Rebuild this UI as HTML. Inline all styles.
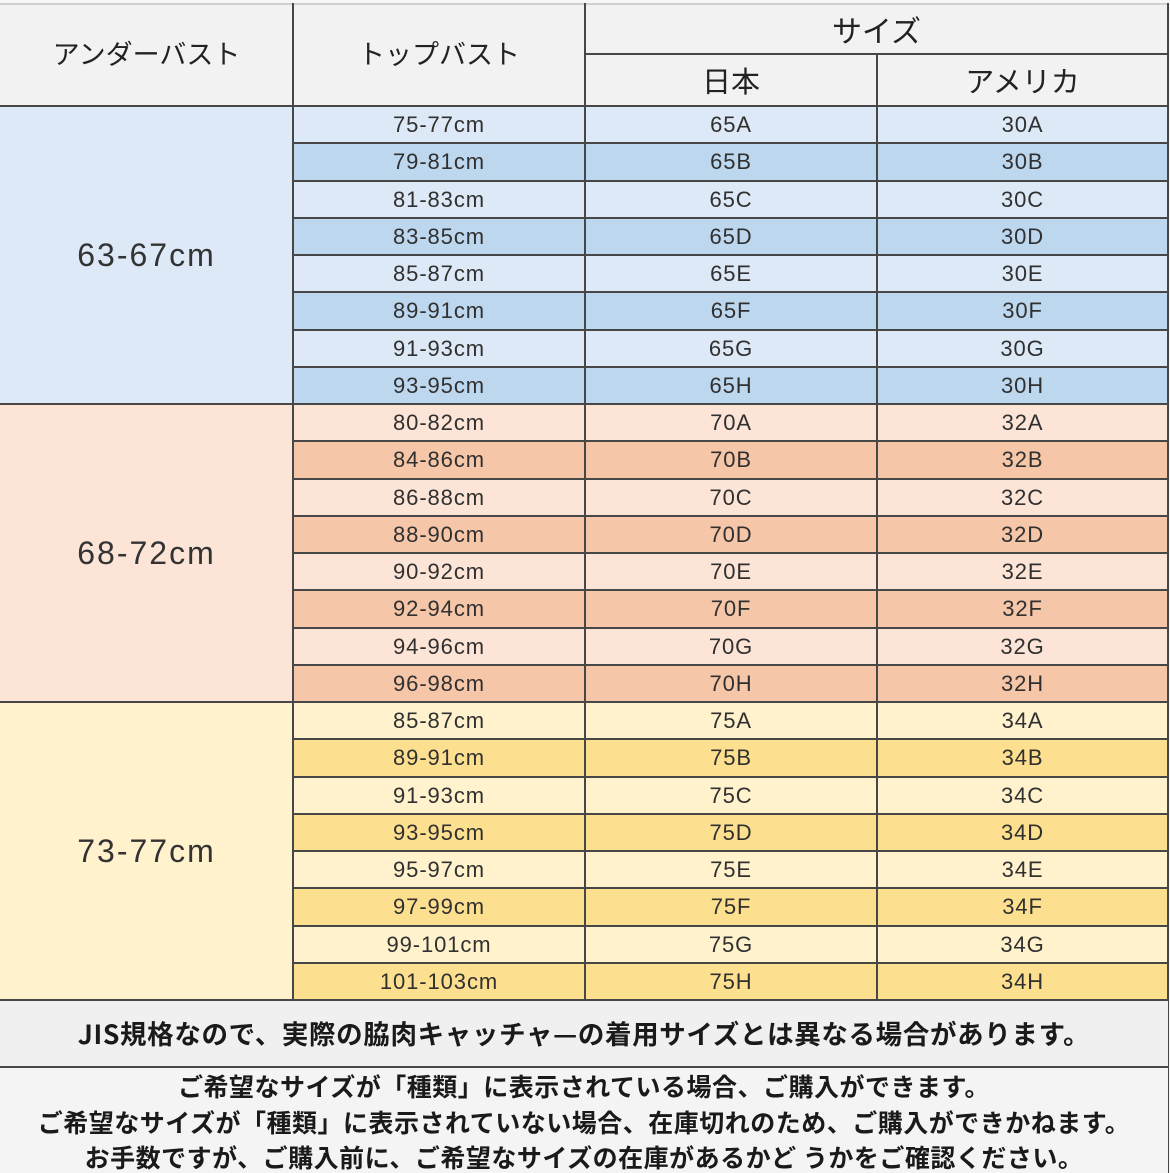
<!DOCTYPE html>
<html><head><meta charset="utf-8">
<style>
*{margin:0;padding:0;box-sizing:border-box}
html,body{width:1170px;height:1173px;background:#f7f7f7;overflow:hidden}
body{position:relative;font-family:"Liberation Sans","Noto Sans CJK JP",sans-serif;color:#2b2b2b}
.abs{position:absolute}
.hdr{left:0;top:3px;width:1168px;height:102px;background:#f2f2f2;border-top:2px solid #d0d0d0}
.ht{position:absolute;text-align:center;font-family:"Noto Sans CJK JP","Liberation Sans",sans-serif;color:#222}
.rows{left:293px;top:105px;width:875px}
.r{height:37.25px;display:grid;grid-template-columns:292px 292px 291px;border-top:2px solid #474747;font-size:22px;letter-spacing:0.9px;line-height:35px;text-align:center;color:#303030}
.b1{background:#dde9f6}.b2{background:#bdd7ef}
.o1{background:#fce4d7}.o2{background:#f5c6a8}
.y1{background:#fff2cd}.y2{background:#fde08f}
.merge{left:0;width:293px;height:298px;font-size:32px;letter-spacing:2px;display:flex;align-items:center;justify-content:center;color:#333;border-top:2px solid #474747}
.vl{position:absolute;width:2px;background:#474747}
.hl{position:absolute;height:2px;background:#474747}
.f1{left:0;top:999px;width:1168px;height:67px;background:#f0f0f0;border-top:2px solid #474747;font-family:"Noto Sans CJK JP","Liberation Sans",sans-serif;font-weight:bold;font-size:26.5px;text-align:center;line-height:64px;color:#1a1a1a;letter-spacing:0.65px}
.f2{left:0;top:1066px;width:1168px;height:107px;background:#f4f4f4;border-top:2px solid #474747;font-family:"Noto Sans CJK JP","Liberation Sans",sans-serif;font-weight:bold;font-size:25px;text-align:center;line-height:35.5px;color:#1a1a1a;padding-top:1px;letter-spacing:0.5px}
</style></head><body>
<div class="abs hdr"></div>
<div class="ht" style="left:0;top:33px;width:293px;font-size:27px;line-height:40px">アンダーバスト</div>
<div class="ht" style="left:293px;top:33px;width:292px;font-size:27px;line-height:40px">トップバスト</div>
<div class="ht" style="left:585px;top:9px;width:583px;font-size:30px;line-height:40px">サイズ</div>
<div class="ht" style="left:585px;top:60px;width:292px;font-size:29px;line-height:40px">日本</div>
<div class="ht" style="left:877px;top:60px;width:291px;font-size:29px;line-height:40px">アメリカ</div>
<div class="hl" style="left:585px;top:53px;width:583px"></div>

<div class="abs merge b1" style="top:105px">63-67cm</div>
<div class="abs merge o1" style="top:403px">68-72cm</div>
<div class="abs merge y1" style="top:701px">73-77cm</div>

<div class="abs rows">
<div class="r b1"><span>75-77cm</span><span>65A</span><span>30A</span></div>
<div class="r b2"><span>79-81cm</span><span>65B</span><span>30B</span></div>
<div class="r b1"><span>81-83cm</span><span>65C</span><span>30C</span></div>
<div class="r b2"><span>83-85cm</span><span>65D</span><span>30D</span></div>
<div class="r b1"><span>85-87cm</span><span>65E</span><span>30E</span></div>
<div class="r b2"><span>89-91cm</span><span>65F</span><span>30F</span></div>
<div class="r b1"><span>91-93cm</span><span>65G</span><span>30G</span></div>
<div class="r b2"><span>93-95cm</span><span>65H</span><span>30H</span></div>
<div class="r o1"><span>80-82cm</span><span>70A</span><span>32A</span></div>
<div class="r o2"><span>84-86cm</span><span>70B</span><span>32B</span></div>
<div class="r o1"><span>86-88cm</span><span>70C</span><span>32C</span></div>
<div class="r o2"><span>88-90cm</span><span>70D</span><span>32D</span></div>
<div class="r o1"><span>90-92cm</span><span>70E</span><span>32E</span></div>
<div class="r o2"><span>92-94cm</span><span>70F</span><span>32F</span></div>
<div class="r o1"><span>94-96cm</span><span>70G</span><span>32G</span></div>
<div class="r o2"><span>96-98cm</span><span>70H</span><span>32H</span></div>
<div class="r y1"><span>85-87cm</span><span>75A</span><span>34A</span></div>
<div class="r y2"><span>89-91cm</span><span>75B</span><span>34B</span></div>
<div class="r y1"><span>91-93cm</span><span>75C</span><span>34C</span></div>
<div class="r y2"><span>93-95cm</span><span>75D</span><span>34D</span></div>
<div class="r y1"><span>95-97cm</span><span>75E</span><span>34E</span></div>
<div class="r y2"><span>97-99cm</span><span>75F</span><span>34F</span></div>
<div class="r y1"><span>99-101cm</span><span>75G</span><span>34G</span></div>
<div class="r y2"><span>101-103cm</span><span>75H</span><span>34H</span></div>
</div>

<div class="vl" style="left:292px;top:3px;height:996px"></div>
<div class="vl" style="left:584px;top:3px;height:996px"></div>
<div class="vl" style="left:876px;top:53px;height:946px"></div>
<div class="vl" style="left:1167px;top:3px;height:1170px"></div>

<div class="abs f1">JIS規格なので、実際の脇肉キャッチャ—の着用サイズとは異なる場合があります。</div>
<div class="abs f2">ご希望なサイズが「種類」に表示されている場合、ご購入ができます。<br>ご希望なサイズが「種類」に表示されていない場合、在庫切れのため、ご購入ができかねます。<br>お手数ですが、ご購入前に、ご希望なサイズの在庫があるかど うかをご確認ください。</div>
</body></html>
